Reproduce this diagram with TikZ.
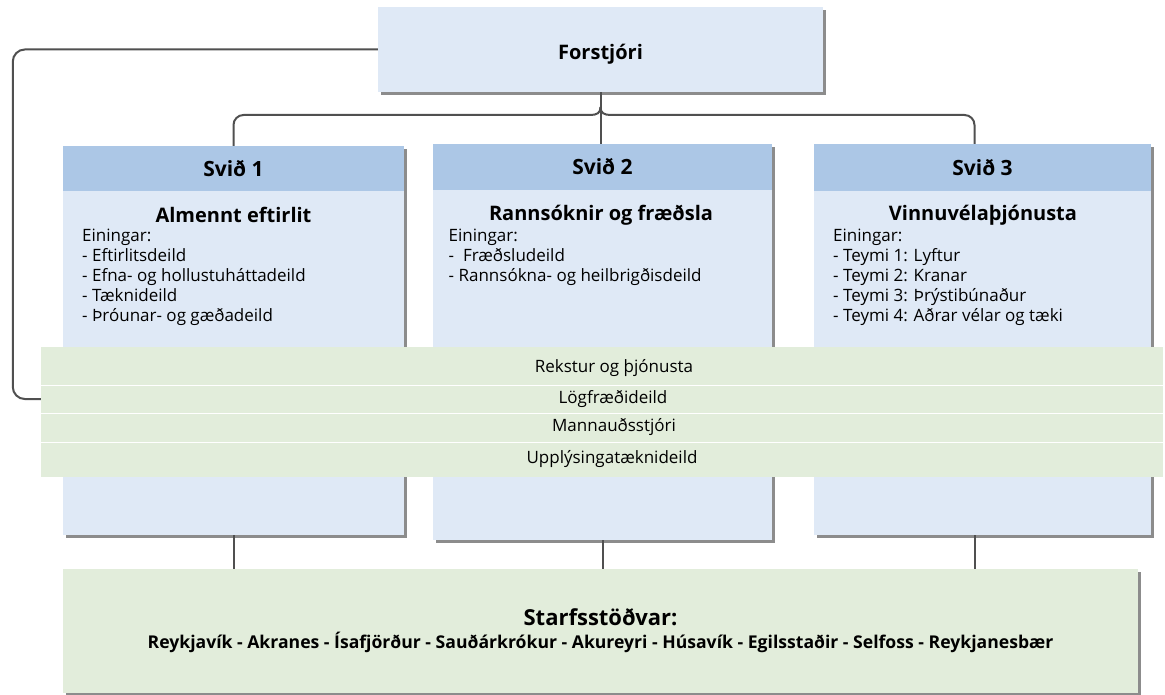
\documentclass[tikz,border=0pt]{standalone}
\usepackage{fontspec}
\setmainfont{Open Sans}
\usetikzlibrary{shadows}
\definecolor{bodyblue}{RGB}{223,233,246}
\definecolor{headblue}{RGB}{172,199,230}
\definecolor{rowgreen}{RGB}{226,237,219}
\definecolor{linegray}{RGB}{80,80,80}
\begin{document}
\begin{tikzpicture}[x=1pt,y=-1pt,
  box/.style={rectangle,inner sep=0pt,drop shadow={shadow xshift=3pt,shadow yshift=-3pt,fill=black!45,opacity=1}},
  head box/.style={box,fill=headblue,font=\bfseries\fontsize{21}{24}\selectfont},
  body box/.style={box,fill=bodyblue},
  row/.style={rectangle,fill=rowgreen,minimum width=1122pt,inner sep=0pt,font=\fontsize{17}{20}\selectfont},
  conn/.style={draw=linegray,line width=2pt},
  title/.style={font=\bfseries\fontsize{20}{22}\selectfont},
  list/.style={anchor=north west,align=left,inner sep=0pt,font=\fontsize{17}{20}\selectfont}]
\useasboundingbox (0,0) rectangle (1165,695);
% top
\node[body box,minimum width=445pt,minimum height=85pt,text height=20pt,text depth=0pt,font=\bfseries\fontsize{20}{24}\selectfont] (forstjori) at (600.5,49.5) {Forstjóri};
% svid
\node[head box,minimum width=341pt,minimum height=45pt] (svid1h) at (233.5,168.5) {Svið 1};
\node[head box,minimum width=339pt,minimum height=46pt] (svid2h) at (602.5,167) {Svið 2};
\node[head box,minimum width=337pt,minimum height=47pt] (svid3h) at (982.5,167.5) {Svið 3};
\node[body box,minimum width=341pt,minimum height=344pt] (svid1b) at (233.5,363) {};
\node[body box,minimum width=339pt,minimum height=350pt] (svid2b) at (602.5,365) {};
\node[body box,minimum width=337pt,minimum height=344pt] (svid3b) at (982.5,363) {};
\node[title] (t1) at (233.5,215) {Almennt eftirlit};
\node[title] (t2) at (601,215) {Rannsóknir og fræðsla};
\node[title] (t3) at (983,215) {Vinnuvélaþjónusta};
\node[list] (l1) at (82,229) {Einingar:\\- Eftirlitsdeild\\- Efna- og hollustuháttadeild\\- Tæknideild\\- Þróunar- og gæðadeild};
\node[list] (l2) at (448.5,229) {Einingar:\\-\ \ Fræðsludeild\\- Rannsókna- og heilbrigðisdeild};
\node[list] (l3) at (833,229) {Einingar:\\- Teymi 1: Lyftur\\- Teymi 2: Kranar\\- Teymi 3: Þrýstibúnaður\\- Teymi 4: Aðrar vélar og tæki};
% rows
\node[row,minimum height=38pt,text depth=0pt] (r1) at (602,366) {\hspace*{24pt}Rekstur og þjónusta};
\node[row,minimum height=28pt] (r2) at (602,399) {\hspace*{22pt}Lögfræðideild};
\node[row,minimum height=29pt] (r3) at (602,427.5) {\hspace*{24pt}Mannauðsstjóri};
\node[row,minimum height=35pt] (r4) at (602,459.5) {\hspace*{20pt}Upplýsingatæknideild};
\draw[white,line width=1.2pt] (r1.south west) -- (r1.south east);
\draw[white,line width=1.2pt] (r2.south west) -- (r2.south east);
\draw[white,line width=1.2pt] (r3.south west) -- (r3.south east);
% bottom
\node[box,fill=rowgreen,minimum width=1075pt,minimum height=124pt,align=center] (stod) at (600.5,631)
  {{\bfseries\fontsize{22}{24}\selectfont Starfsstöðvar:}\\[5pt]
   {\bfseries\fontsize{17.6}{20}\selectfont Reykjavík - Akranes - Ísafjörður - Sauðárkrókur - Akureyri - Húsavík - Egilsstaðir - Selfoss - Reykjanesbær}};
% lines
\coordinate (brace) at (600.5,107);
\coordinate (d3) at (974.5,0);
\draw[conn] (forstjori.south) -- (forstjori.south |- svid2h.north);
\draw[conn] (brace) .. controls (600.5,113) and (597,115) .. (590,115) [rounded corners=10pt] -| (svid1h.north);
\draw[conn] (brace) .. controls (600.5,113) and (604,115) .. (611,115) [rounded corners=10pt] -| (d3 |- svid3h.north);
\draw[conn,rounded corners=12pt] (forstjori.west) -- ++(-365,0) |- (r2.west);
\draw[conn] (svid1b.south) -- (svid1b.south |- stod.north);
\draw[conn] (svid2b.south) -- (svid2b.south |- stod.north);
\draw[conn] (d3 |- svid3b.south) -- (d3 |- stod.north);
\end{tikzpicture}
\end{document}
